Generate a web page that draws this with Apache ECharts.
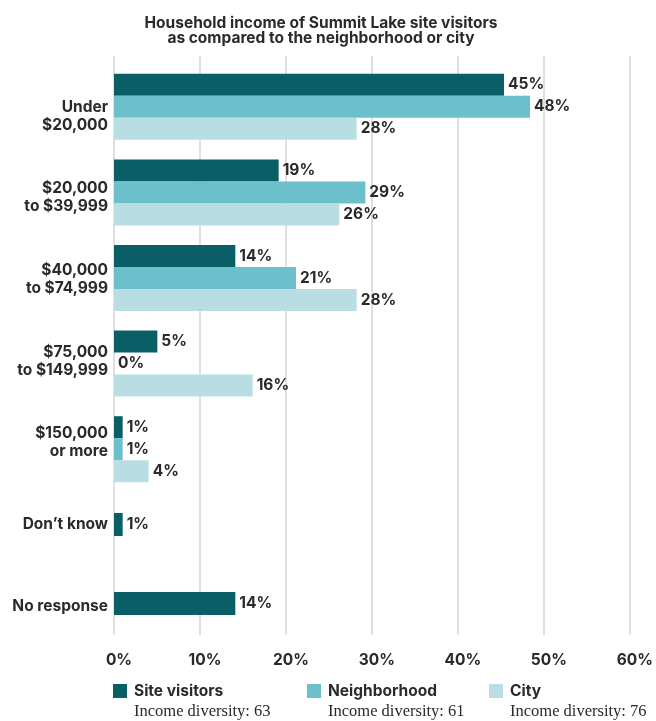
<!DOCTYPE html>
<html>
<head>
<meta charset="utf-8">
<script src="https://cdn.jsdelivr.net/npm/echarts@6/dist/echarts.min.js"></script>
<style>
  html, body { margin: 0; padding: 0; background: #ffffff; }
  #chart { width: 656px; height: 721px; }
</style>
</head>
<body>
<div id="chart"></div>
<script>
// Income brackets, top to bottom
const categories = [
  'Under\n$20,000',
  '$20,000\nto $39,999',
  '$40,000\nto $74,999',
  '$75,000\nto $149,999',
  '$150,000\nor more',
  'Don\u2019t know',
  'No response'
];
// Share of respondents (%) per bracket
const siteVisitors = [45, 19, 14, 5, 1, 1, 14];
const neighborhood = [48, 29, 21, 0, 1, null, null];
const city = [28, 26, 28, 16, 4, null, null];

const seriesNames = ['Site visitors', 'Neighborhood', 'City'];
const diversityScores = [63, 61, 76];
const xTicks = [0, 10, 20, 30, 40, 50, 60];

// Brackets compared across all three groups; the rest only have site visitor answers
const comparedCount = 5;

const COLORS = ['#0a5f66', '#6bc0cb', '#b8dee4'];
const TEXT = '#2b292a';
const SANS = 'Inter, Roboto, "Liberation Sans", sans-serif';
const SERIF = '"Liberation Serif", "DejaVu Serif", serif';

const PLOT_LEFT = 114, PLOT_WIDTH = 520;
const X_MIN = xTicks[0], X_MAX = xTicks[xTicks.length - 1];

const chart = echarts.init(document.getElementById('chart'), null, { renderer: 'canvas' });

const hiddenX = (gridIndex) => ({
  type: 'value', gridIndex, min: X_MIN, max: X_MAX, interval: 10,
  show: false, splitLine: { show: false }
});

const valueLabel = {
  show: true, position: 'right', distance: 4,
  color: TEXT, fontFamily: SANS, fontWeight: 'bold', fontSize: 15.5,
  formatter: (p) => p.value + '%'
};

const comparedCats = categories.slice(0, comparedCount);
const singleCats = categories.slice(comparedCount);

const groupSeries = [siteVisitors, neighborhood, city].map((vals, i) => ({
  name: seriesNames[i],
  type: 'bar',
  xAxisIndex: 2, yAxisIndex: 2,
  data: vals.slice(0, comparedCount),
  barWidth: 22, barGap: '0%',
  itemStyle: { color: COLORS[i] },
  label: valueLabel,
  emphasis: { disabled: true }
}));

const singleSeries = {
  name: seriesNames[0],
  type: 'bar',
  xAxisIndex: 3, yAxisIndex: 3,
  data: siteVisitors.slice(comparedCount),
  barWidth: 23,
  itemStyle: { color: COLORS[0] },
  label: valueLabel,
  emphasis: { disabled: true }
};

const legendX = [113, 307, 489];
const legends = seriesNames.map((n, i) => ({
  data: [n],
  left: legendX[i], top: 683, padding: 0,
  itemWidth: 14, itemHeight: 14,
  icon: 'rect',
  selectedMode: false,
  textStyle: { color: TEXT, fontFamily: SANS, fontWeight: 'bold', fontSize: 15.5, padding: [0, 0, 0, 2] }
}));

const subLabels = seriesNames.map((n, i) => ({
  type: 'text',
  left: legendX[i] + 21, top: 703,
  style: {
    text: 'Income diversity: ' + diversityScores[i],
    fill: TEXT, font: '16.5px ' + SERIF
  }
}));

chart.setOption({
  animation: false,
  title: {
    text: 'Household income of Summit Lake site visitors\nas compared to the neighborhood or city',
    left: 316, top: 11, textAlign: 'center',
    textStyle: { color: TEXT, fontFamily: SANS, fontWeight: 'bold', fontSize: 15.5, lineHeight: 15 }
  },
  legend: legends,
  grid: [
    // gridlines and percentage ticks
    { left: PLOT_LEFT, width: PLOT_WIDTH, top: 56, height: 579 },
    // bracket names
    { left: PLOT_LEFT, width: PLOT_WIDTH, top: 75, height: 572 },
    // compared brackets
    { left: PLOT_LEFT, width: PLOT_WIDTH, top: 64, height: 428 },
    // site visitor only brackets
    { left: PLOT_LEFT, width: PLOT_WIDTH, top: 485, height: 158 }
  ],
  xAxis: [
    {
      type: 'value', gridIndex: 0, min: X_MIN, max: X_MAX, interval: 10,
      axisLine: { show: false }, axisTick: { show: false },
      splitLine: { show: true, lineStyle: { color: '#e0e0e0', width: 2 } },
      axisLabel: {
        margin: 17, color: TEXT, fontFamily: SANS, fontWeight: 'bold', fontSize: 15.5,
        padding: [0, 0, 0, 10],
        formatter: (v) => v + '%'
      }
    },
    hiddenX(1), hiddenX(2), hiddenX(3)
  ],
  yAxis: [
    { type: 'value', gridIndex: 0, min: 0, max: 1, show: false, splitLine: { show: false } },
    {
      type: 'category', gridIndex: 1, data: categories, inverse: true,
      axisLine: { show: false }, axisTick: { show: false },
      axisLabel: {
        margin: 6, color: TEXT, fontFamily: SANS, fontWeight: 'bold', fontSize: 15.5,
        lineHeight: 18, align: 'right'
      }
    },
    { type: 'category', gridIndex: 2, data: comparedCats, inverse: true, show: false },
    { type: 'category', gridIndex: 3, data: singleCats, inverse: true, show: false }
  ],
  graphic: subLabels,
  series: groupSeries.concat([singleSeries])
});
</script>
</body>
</html>
